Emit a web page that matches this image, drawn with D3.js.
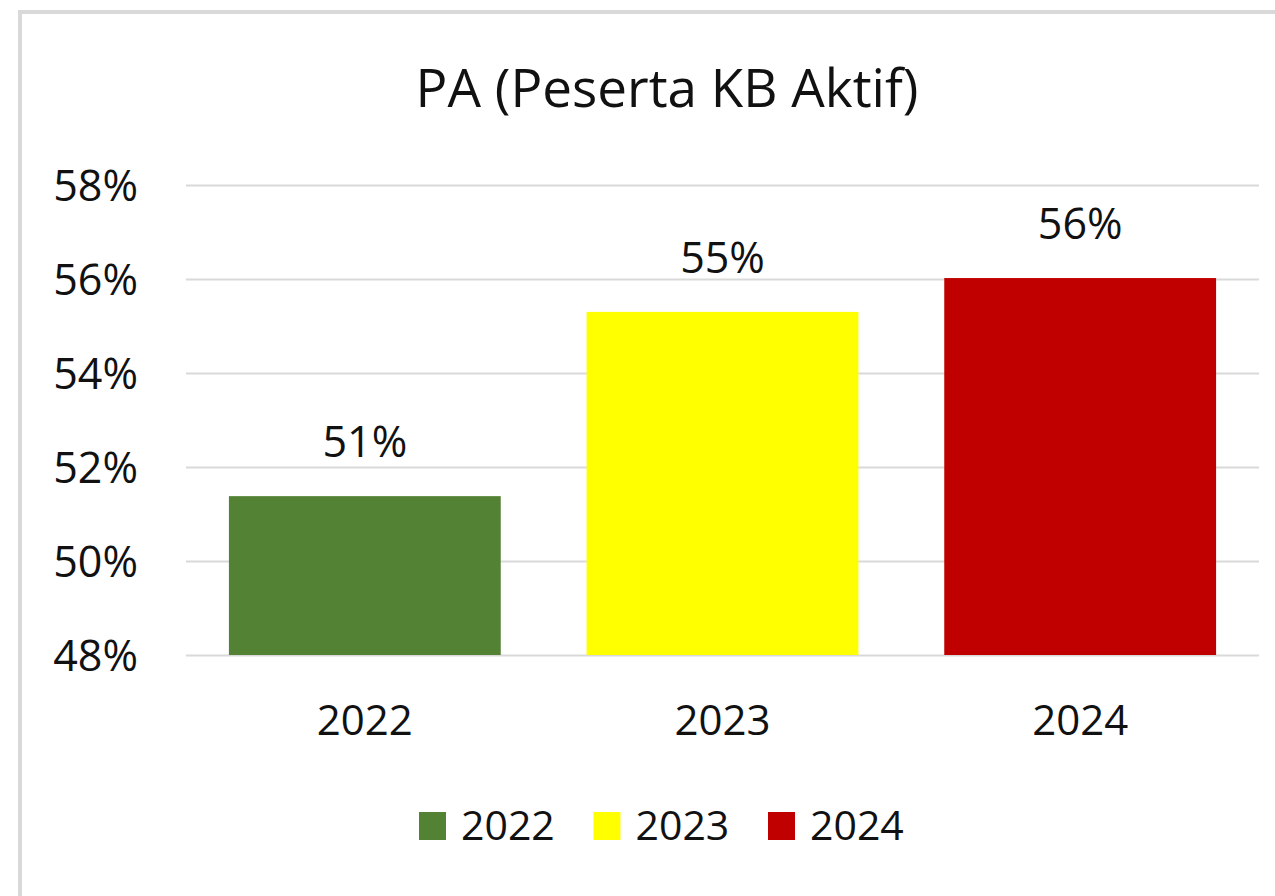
<!DOCTYPE html>
<html>
<head>
<meta charset="utf-8">
<script src="https://cdn.jsdelivr.net/npm/d3@7"></script>
<style>
  body { margin: 0; background: #fff; }
  svg { display: block; font-family: 'Open Sans', sans-serif; }
</style>
</head>
<body>
<div id="chart"></div>
<script>
// data
const years = ['2022', '2023', '2024'];
const values = [0.5138, 0.5530, 0.5602];
const colors = ['#548235', '#ffff00', '#c00000'];
const yTicks = [0.48, 0.50, 0.52, 0.54, 0.56, 0.58];
const title = 'PA (Peserta KB Aktif)';

const width = 1275;
const height = 896;
const textColor = '#111';

const svg = d3.select('#chart').append('svg')
  .attr('width', width)
  .attr('height', height);

// outer frame, runs off the right and bottom edges
svg.append('rect')
  .attr('x', 20).attr('y', 12)
  .attr('width', 1400).attr('height', 1000)
  .attr('fill', '#fff')
  .attr('stroke', '#d9d9d9')
  .attr('stroke-width', 4);

svg.append('text')
  .attr('x', 667).attr('y', 107)
  .attr('text-anchor', 'middle')
  .attr('font-size', 53)
  .attr('fill', textColor)
  .text(title);

/* scales */
const x = d3.scaleBand()
  .domain(years)
  .range([186, 1259])
  .paddingInner(0.24)
  .paddingOuter(0.12);

const y = d3.scaleLinear()
  .domain([0.48, 0.58])
  .range([655, 185]);

// gridlines + y labels
const yAxis = d3.axisLeft(y)
  .tickValues(yTicks)
  .tickSize(-(1259 - 186))
  .tickPadding(48)
  .tickFormat(d3.format('.0%'));

const gy = svg.append('g')
  .attr('transform', 'translate(186,0)')
  .call(yAxis);
gy.select('.domain').remove();
gy.selectAll('.tick line').attr('stroke', '#d9d9d9').attr('stroke-width', 2);
gy.selectAll('.tick text')
  .attr('font-size', 43)
  .attr('font-family', 'Open Sans, sans-serif')
  .attr('fill', textColor)
  .attr('dy', '0.36em');

// bars
svg.append('g')
  .selectAll('rect')
  .data(years)
  .join('rect')
  .attr('x', (d) => x(d))
  .attr('y', (d, i) => y(values[i]))
  .attr('width', x.bandwidth())
  .attr('height', (d, i) => y(0.48) - y(values[i]))
  .attr('fill', (d, i) => colors[i]);

// value labels
svg.append('g')
  .selectAll('text')
  .data(years)
  .join('text')
  .attr('x', (d) => x(d) + x.bandwidth() / 2)
  .attr('y', (d, i) => y(values[i]) - 39)
  .attr('text-anchor', 'middle')
  .attr('font-size', 43)
  .attr('fill', textColor)
  .text((d, i) => d3.format('.0%')(values[i]));

// x axis labels
const xAxis = d3.axisBottom(x).tickSize(0).tickPadding(0);
const gx = svg.append('g')
  .attr('transform', 'translate(0,655)')
  .call(xAxis);
gx.select('.domain').remove();
gx.selectAll('.tick text')
  .attr('font-size', 42)
  .attr('font-family', 'Open Sans, sans-serif')
  .attr('fill', textColor)
  .attr('dy', null)
  .attr('y', 80);

// legend
const itemW = 174.5;
const legendStart = 419;
const legend = svg.append('g')
  .selectAll('g')
  .data(years)
  .join('g')
  .attr('transform', (d, i) => `translate(${legendStart + i * itemW}, 812)`);

legend.append('rect')
  .attr('width', 27).attr('height', 28)
  .attr('fill', (d, i) => colors[i]);

legend.append('text')
  .attr('x', 42).attr('y', 28)
  .attr('font-size', 41)
  .attr('fill', textColor)
  .text((d) => d);
</script>
</body>
</html>
